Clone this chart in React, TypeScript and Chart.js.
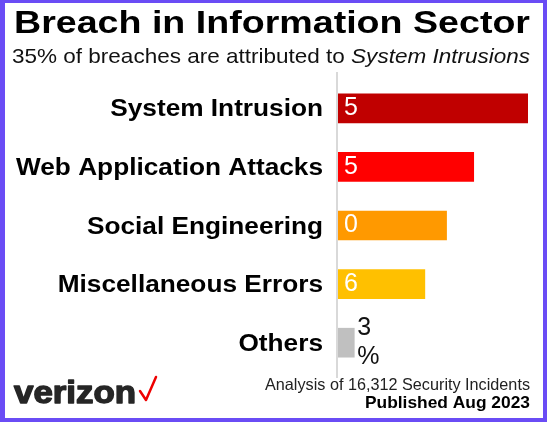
import React, { useEffect, useRef } from "react";
import { Chart, registerables } from "chart.js";

Chart.register(...registerables);

const categories = [
  "System Intrusion",
  "Web Application Attacks",
  "Social Engineering",
  "Miscellaneous Errors",
  "Others",
];
const values = [35, 25, 20, 16, 3];
const barColors = ["#c00000", "#ff0000", "#ff9900", "#ffc000", "#c0c0c0"];
const titleText = "Breach in Information Sector";
const subtitleNormal = "35% of breaches are attributed to ";
const subtitleItalic = "System Intrusions";
const footerLine1 = "Analysis of 16,312 Security Incidents";
const footerLine2 = "Published Aug 2023";
const logoText = "verizon";

const FONT = '"Liberation Sans", Arial, sans-serif';

function drawFit(
  ctx: CanvasRenderingContext2D,
  text: string,
  x: number,
  y: number,
  targetW: number,
  align: CanvasTextAlign,
  strokeW = 0
) {
  const w = ctx.measureText(text).width;
  const s = targetW / w;
  ctx.save();
  ctx.translate(x, y);
  ctx.scale(s, 1);
  ctx.textAlign = align;
  ctx.fillText(text, 0, 0);
  if (strokeW > 0) {
    ctx.strokeStyle = ctx.fillStyle as string;
    ctx.lineWidth = strokeW;
    ctx.lineJoin = "round";
    ctx.strokeText(text, 0, 0);
  }
  ctx.restore();
}

const decorPlugin = {
  id: "decor",
  beforeDatasetsDraw(chart: any) {
    const ctx = chart.ctx;
    const left = chart.chartArea.left;
    ctx.save();
    ctx.strokeStyle = "#d9d9d9";
    ctx.lineWidth = 2;
    ctx.beginPath();
    ctx.moveTo(left - 1, 72);
    ctx.lineTo(left - 1, 378);
    ctx.stroke();
    ctx.restore();
  },
  afterDatasetsDraw(chart: any) {
    const ctx = chart.ctx;
    const meta = chart.getDatasetMeta(0);
    ctx.save();
    ctx.font = `25px ${FONT}`;
    ctx.textAlign = "left";
    ctx.textBaseline = "middle";
    const lh = 29;
    meta.data.forEach((bar: any, i: number) => {
      const chars = (values[i] + "%").split("");
      const inside = i < 4;
      ctx.fillStyle = inside ? "#ffffff" : "#111111";
      const x = inside ? bar.base + 6 : bar.x + 3;
      const n = chars.length;
      chars.forEach((c: string, k: number) => {
        ctx.fillText(c, x, bar.y + (k - (n - 1) / 2) * lh);
      });
    });
    ctx.restore();
  },
  afterDraw(chart: any) {
    const ctx = chart.ctx;
    ctx.save();
    ctx.textBaseline = "alphabetic";
    // Category labels (drawn at the y scale tick positions)
    const yScale = chart.scales.y;
    ctx.fillStyle = "#000";
    ctx.font = `bold 23px ${FONT}`;
    const refW = ctx.measureText(categories[1]).width;
    const sx = 307 / refW;
    categories.forEach((c, i) => {
      const y = yScale.getPixelForTick(i);
      const w = ctx.measureText(c).width * sx;
      drawFit(ctx, c, 323, y + 8, w, "right");
    });
    // Title
    ctx.font = `bold 32px ${FONT}`;
    ctx.fillStyle = "#000";
    drawFit(ctx, titleText, 272, 33, 516, "center");
    // Subtitle
    ctx.font = `21px ${FONT}`;
    const w1 = ctx.measureText(subtitleNormal).width;
    ctx.font = `italic 21px ${FONT}`;
    const w2 = ctx.measureText(subtitleItalic).width;
    const s = 518 / (w1 + w2);
    ctx.save();
    ctx.translate(12, 63);
    ctx.scale(s, 1);
    ctx.textAlign = "left";
    ctx.fillStyle = "#111";
    ctx.font = `21px ${FONT}`;
    ctx.fillText(subtitleNormal, 0, 0);
    ctx.font = `italic 21px ${FONT}`;
    ctx.fillText(subtitleItalic, w1, 0);
    ctx.restore();
    // Footer
    ctx.fillStyle = "#222";
    ctx.font = `16.5px ${FONT}`;
    drawFit(ctx, footerLine1, 530, 390, 265, "right");
    ctx.fillStyle = "#000";
    ctx.font = `bold 16.5px ${FONT}`;
    drawFit(ctx, footerLine2, 530, 408, 165, "right");
    // Logo
    ctx.fillStyle = "#262626";
    ctx.font = `bold 31px ${FONT}`;
    drawFit(ctx, logoText, 14, 403, 122, "left", 1.4);
    ctx.strokeStyle = "#ee0000";
    ctx.lineWidth = 2.5;
    ctx.lineCap = "round";
    ctx.lineJoin = "round";
    ctx.beginPath();
    ctx.moveTo(140, 391);
    ctx.lineTo(146, 400);
    ctx.lineTo(156, 377);
    ctx.stroke();
    ctx.restore();
  },
};

export default function App() {
  const ref = useRef<HTMLCanvasElement | null>(null);
  useEffect(() => {
    if (!ref.current) return;
    const chart = new Chart(ref.current, {
      type: "bar",
      data: {
        labels: categories,
        datasets: [
          {
            data: values,
            backgroundColor: barColors,
            barThickness: 29,
            borderWidth: 0,
          },
        ],
      },
      options: {
        indexAxis: "y",
        animation: false,
        responsive: false,
        maintainAspectRatio: false,
        layout: { padding: { top: 79, bottom: 50, right: 19, left: 0 } },
        plugins: {
          legend: { display: false },
          tooltip: { enabled: false },
          title: { display: false },
        },
        scales: {
          x: { min: 0, max: 35, display: false },
          y: {
            grid: { display: false, drawTicks: false },
            border: { display: false },
            ticks: { display: false },
            afterFit(scale: any) {
              scale.width = 338;
            },
          },
        },
      },
      plugins: [decorPlugin],
    } as any);
    return () => chart.destroy();
  }, []);
  return (
    <div
      style={{
        position: "fixed",
        left: 0,
        top: 0,
        width: 547,
        height: 422,
        background: "#fff",
        overflow: "hidden",
      }}
    >
      <canvas ref={ref} width={547} height={422} style={{ position: "absolute", left: 0, top: 0 }} />
      <div
        style={{
          position: "absolute",
          left: 0,
          top: 0,
          width: 547,
          height: 422,
          boxSizing: "border-box",
          borderStyle: "solid",
          borderColor: "#6a4cf5",
          borderWidth: "3px 4px 4px 5px",
          pointerEvents: "none",
        }}
      />
    </div>
  );
}
